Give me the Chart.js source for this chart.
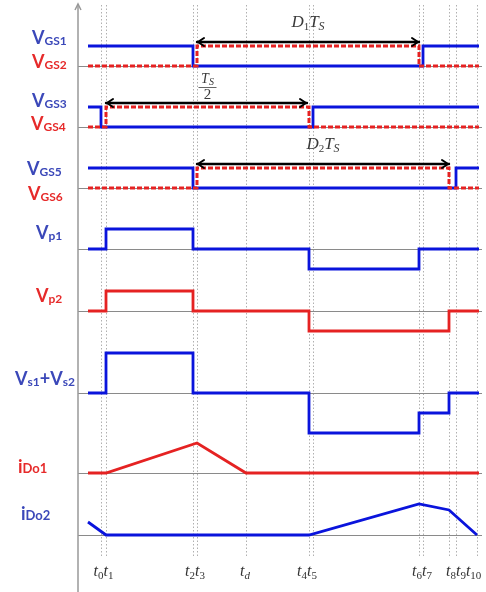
<!DOCTYPE html>
<html><head><meta charset="utf-8">
<script src="https://cdn.jsdelivr.net/npm/chart.js@4.4.0/dist/chart.umd.min.js"></script>
<style>html,body{margin:0;padding:0;background:#fff;}canvas{display:block}</style>
</head><body>
<canvas id="c" width="486" height="592"></canvas>
<script>
// ---- time instants (arbitrary time units) ----
const tStart = 2.5, tEnd = 100.25;
const t0 = 5.75, t1 = 7.0, t2 = 28.75, t3 = 29.75, td = 42.0, t4 = 57.75, t5 = 58.75,
      t6 = 85.25, t7 = 86.25, t8 = 92.75, t9 = 94.5, t10 = 99.75;
const gridTimes = [t0, t1, t2, t3, td, t4, t5, t6, t7, t8, t9, t10];

// ---- tick label groups ----
const tickGroupTimes = [[t0, t1], [t2, t3], [td], [t4, t5], [t6, t7], [t8, t9, t10]];
const tickGroupSubs  = [['0', '1'], ['2', '3'], ['d'], ['4', '5'], ['6', '7'], ['8', '9', '10']];

// ---- signal series (times of change, level after change) ----
const vgs1Times = [tStart, t2, t7, tEnd];           const vgs1Levels = [1, 0, 1, 1];
const vgs2Times = [tStart, t3, t6, tEnd];           const vgs2Levels = [0, 1, 0, 0];
const vgs3Times = [tStart, t0, t5, tEnd];           const vgs3Levels = [1, 0, 1, 1];
const vgs4Times = [tStart, t1, t4, tEnd];           const vgs4Levels = [0, 1, 0, 0];
const vgs5Times = [tStart, t2, t9, tEnd];           const vgs5Levels = [1, 0, 1, 1];
const vgs6Times = [tStart, t3, t8, tEnd];           const vgs6Levels = [0, 1, 0, 0];
const vp1Times  = [tStart, t1, t2, t4, t6, tEnd];   const vp1Levels  = [0, 1, 0, -1, 0, 0];
const vp2Times  = [tStart, t1, t2, t4, t8, tEnd];   const vp2Levels  = [0, 1, 0, -1, 0, 0];
const vsTimes   = [tStart, t1, t2, t4, t6, t8, tEnd]; const vsLevels = [0, 2, 0, -2, -1, 0, 0];
const ido1Times = [tStart, t1, t3, td, tEnd];       const ido1Levels = [0, 0, 1.5, 0, 0];
const ido2Times = [tStart, t1, t4, t6, t8, t10];    const ido2Levels = [0.65, 0, 0, 1.55, 1.25, 0];

// ---- layout: row baselines in y-units ----
const rowBase = [24.55, 21.5, 18.45, 15.4, 12.3, 8.2, 4.2, 1.1];

const BLUE = '#0a14dc', RED = '#e52222';
const LBLUE = '#3b48b9', LRED = '#e62a2a';

function series(times, levels, row) {
  return times.map((t, i) => ({ x: t, y: rowBase[row] + levels[i] }));
}
function ds(times, levels, row, color, opts) {
  return Object.assign({
    data: series(times, levels, row), borderColor: color, borderWidth: 2.8,
    pointRadius: 0, fill: false, tension: 0, stepped: 'before', borderJoinStyle: 'miter'
  }, opts || {});
}
const dash = { borderDash: [5, 2], borderWidth: 3 };

const datasets = [
  ds(vgs2Times, vgs2Levels, 0, RED, dash),
  ds(vgs1Times, vgs1Levels, 0, BLUE),
  ds(vgs4Times, vgs4Levels, 1, RED, dash),
  ds(vgs3Times, vgs3Levels, 1, BLUE),
  ds(vgs6Times, vgs6Levels, 2, RED, dash),
  ds(vgs5Times, vgs5Levels, 2, BLUE),
  ds(vp1Times, vp1Levels, 3, BLUE),
  ds(vp2Times, vp2Levels, 4, RED),
  ds(vsTimes, vsLevels, 5, BLUE),
  ds(ido1Times, ido1Levels, 6, RED, { stepped: false }),
  ds(ido2Times, ido2Levels, 7, BLUE, { stepped: false })
];

function richText(ctx, x, y, parts, align) {
  let w = 0;
  parts.forEach(p => { ctx.font = p.f; p.w = ctx.measureText(p.t).width; w += p.w; });
  let cx = align === 'center' ? x - w / 2 : (align === 'right' ? x - w : x);
  parts.forEach(p => { ctx.font = p.f; ctx.fillText(p.t, cx, y + (p.dy || 0)); cx += p.w; });
}

const LB = 'bold 18px Lato', LS = 'bold 12px Lato', LS2 = 'bold 13px Lato';
const leftLabels = [
  { x: 32, y: 44,  c: LBLUE, p: [{ t: 'V', f: LB }, { t: 'GS1', f: LS, dy: 1 }] },
  { x: 32, y: 68,  c: LRED,  p: [{ t: 'V', f: LB }, { t: 'GS2', f: LS, dy: 1 }] },
  { x: 32, y: 107, c: LBLUE, p: [{ t: 'V', f: LB }, { t: 'GS3', f: LS, dy: 1 }] },
  { x: 31, y: 130, c: LRED,  p: [{ t: 'V', f: LB }, { t: 'GS4', f: LS, dy: 1 }] },
  { x: 27, y: 175, c: LBLUE, p: [{ t: 'V', f: LB }, { t: 'GS5', f: LS, dy: 1 }] },
  { x: 28, y: 200, c: LRED,  p: [{ t: 'V', f: LB }, { t: 'GS6', f: LS, dy: 1 }] },
  { x: 36, y: 239, c: LBLUE, p: [{ t: 'V', f: LB }, { t: 'p1', f: LS, dy: 1 }] },
  { x: 36, y: 302, c: LRED,  p: [{ t: 'V', f: LB }, { t: 'p2', f: LS, dy: 1 }] },
  { x: 15, y: 385, c: LBLUE, p: [{ t: 'V', f: LB }, { t: 's1', f: LS, dy: 1 }, { t: '+', f: LB }, { t: 'V', f: LB }, { t: 's2', f: LS, dy: 1 }] },
  { x: 18, y: 473, c: LRED,  p: [{ t: 'i', f: LB }, { t: 'Do1', f: LS2, dy: 0 }] },
  { x: 21, y: 520, c: LBLUE, p: [{ t: 'i', f: LB }, { t: 'Do2', f: LS2, dy: 0 }] }
];

const SI = 'italic 17px "Liberation Serif"', SS = '11px "Liberation Serif"', SSI = 'italic 12px "Liberation Serif"';

function arrow(ctx, x1, x2, y) {
  ctx.save();
  ctx.strokeStyle = '#000'; ctx.lineWidth = 2.4; ctx.lineCap = 'round';
  ctx.beginPath(); ctx.moveTo(x1, y); ctx.lineTo(x2, y); ctx.stroke();
  ctx.lineWidth = 2;
  ctx.beginPath();
  ctx.moveTo(x1 + 7, y - 4); ctx.lineTo(x1 + 1, y); ctx.lineTo(x1 + 7, y + 4);
  ctx.moveTo(x2 - 7, y - 4); ctx.lineTo(x2 - 1, y); ctx.lineTo(x2 - 7, y + 4);
  ctx.stroke();
  ctx.restore();
}

const decor = {
  id: 'decor',
  beforeDatasetsDraw(chart) {
    const { ctx, chartArea: a, scales: { y } } = chart;
    ctx.save();
    ctx.strokeStyle = '#8a8a8a'; ctx.lineWidth = 1;
    rowBase.forEach(b => {
      const py = Math.round(y.getPixelForValue(b)) + 0.5;
      ctx.beginPath(); ctx.moveTo(a.left, py); ctx.lineTo(a.right, py); ctx.stroke();
    });
    // vertical axis with arrow
    ctx.strokeStyle = '#999'; ctx.lineWidth = 1.5;
    ctx.beginPath(); ctx.moveTo(a.left, a.top - 1); ctx.lineTo(a.left, chart.height); ctx.stroke();
    ctx.beginPath(); ctx.moveTo(a.left - 3, a.top + 5); ctx.lineTo(a.left, a.top - 1); ctx.lineTo(a.left + 3, a.top + 5); ctx.stroke();
    ctx.restore();
  },
  afterDraw(chart) {
    const { ctx, scales: { x, y } } = chart;
    ctx.save();
    ctx.textBaseline = 'alphabetic';
    // left labels
    leftLabels.forEach(l => { ctx.fillStyle = l.c; richText(ctx, l.x, l.y, l.p, 'left'); });
    // arrows
    const ay1 = y.getPixelForValue(rowBase[0] + 1.2);
    const ay2 = y.getPixelForValue(rowBase[1] + 1.2);
    const ay3 = y.getPixelForValue(rowBase[2] + 1.2);
    arrow(ctx, x.getPixelForValue(t3), x.getPixelForValue(t6), ay1);
    arrow(ctx, x.getPixelForValue(t1), x.getPixelForValue(t4) - 2, ay2);
    arrow(ctx, x.getPixelForValue(t3), x.getPixelForValue(t8), ay3);
    ctx.fillStyle = '#3a3a3a';
    const m1 = (x.getPixelForValue(t3) + x.getPixelForValue(t6)) / 2;
    richText(ctx, m1, ay1 - 15, [{ t: 'D', f: SI }, { t: '1', f: SS, dy: 3 }, { t: 'T', f: SI }, { t: 'S', f: SSI, dy: 3 }], 'center');
    const m3 = (x.getPixelForValue(t3) + x.getPixelForValue(t8)) / 2;
    richText(ctx, m3, ay3 - 15, [{ t: 'D', f: SI }, { t: '2', f: SS, dy: 3 }, { t: 'T', f: SI }, { t: 'S', f: SSI, dy: 3 }], 'center');
    const m2 = (x.getPixelForValue(t1) + x.getPixelForValue(t4)) / 2;
    richText(ctx, m2, ay2 - 20, [{ t: 'T', f: 'italic 14px "Liberation Serif"' }, { t: 'S', f: 'italic 10px "Liberation Serif"', dy: 2 }], 'center');
    ctx.strokeStyle = '#666'; ctx.lineWidth = 1;
    ctx.beginPath(); ctx.moveTo(m2 - 9, ay2 - 15.5); ctx.lineTo(m2 + 9, ay2 - 15.5); ctx.stroke();
    ctx.font = '15px "Liberation Serif"'; ctx.textAlign = 'center';
    ctx.fillText('2', m2, ay2 - 4);
    ctx.textAlign = 'left';
    // bottom tick labels
    ctx.fillStyle = '#333';
    const tweak = [0, 0, -1, -4, 1, 3];
    tickGroupTimes.forEach((g, i) => {
      const cx = g.reduce((s, t) => s + x.getPixelForValue(t), 0) / g.length + tweak[i];
      const parts = [];
      g.forEach((t, j) => {
        const s = tickGroupSubs[i][j];
        parts.push({ t: 't', f: 'italic 16px "Liberation Serif"' });
        parts.push({ t: s, f: s === 'd' ? 'italic 11px "Liberation Serif"' : '11px "Liberation Serif"', dy: 3 });
      });
      richText(ctx, cx, 576, parts, 'center');
    });
    ctx.restore();
  }
};

new Chart(document.getElementById('c'), {
  type: 'line',
  data: { datasets },
  options: {
    responsive: false, animation: false, devicePixelRatio: 1,
    layout: { padding: { left: 78, right: 4, top: 5, bottom: 35 } },
    plugins: { legend: { display: false }, tooltip: { enabled: false } },
    scales: {
      x: {
        type: 'linear', min: 0, max: 101,
        afterBuildTicks: (axis) => { axis.ticks = gridTimes.map(v => ({ value: v })); },
        ticks: { display: false },
        grid: { display: true, drawTicks: false, color: 'rgba(150,150,150,0.75)', lineWidth: 1 },
        border: { display: false, dash: [1.5, 2] }
      },
      y: { type: 'linear', min: 0, max: 27.6, display: false }
    }
  },
  plugins: [decor]
});
</script>
</body></html>
